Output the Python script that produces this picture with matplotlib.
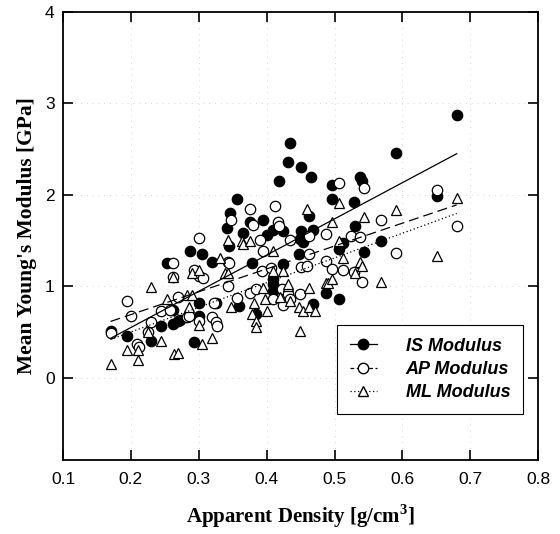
import numpy as np
import matplotlib
matplotlib.use("Agg")
import matplotlib.pyplot as plt

# apparent density [g/cm3] and modulus [GPa]
is_x = [0.17, 0.194, 0.229, 0.244, 0.262, 0.262, 0.269, 0.273, 0.253, 0.293,
        0.30, 0.30, 0.287, 0.305, 0.319, 0.325, 0.341, 0.346, 0.344, 0.356,
        0.359, 0.365, 0.376, 0.378, 0.385, 0.394, 0.40, 0.409, 0.41, 0.41,
        0.41, 0.418, 0.424, 0.424, 0.432, 0.435, 0.447, 0.449, 0.451, 0.451,
        0.453, 0.462, 0.465, 0.468, 0.468, 0.487, 0.497, 0.497, 0.507, 0.507,
        0.512, 0.528, 0.53, 0.538, 0.54, 0.544, 0.568, 0.591, 0.651, 0.681]
is_y = [0.51, 0.46, 0.40, 0.57, 0.74, 0.59, 0.62, 0.63, 1.25, 0.39,
        0.82, 0.67, 1.39, 1.35, 1.27, 0.82, 1.64, 1.80, 1.44, 1.95,
        0.78, 1.58, 1.70, 1.25, 0.70, 1.73, 1.56, 1.61, 0.95, 1.02,
        1.08, 2.15, 1.60, 1.24, 2.36, 2.57, 1.35, 1.52, 2.30, 1.60,
        1.48, 1.77, 2.19, 1.62, 0.81, 0.93, 2.11, 1.95, 1.41, 0.86,
        1.47, 1.92, 1.66, 2.19, 2.15, 1.38, 1.49, 2.46, 1.99, 2.87]

ap_x = [0.17, 0.195, 0.20, 0.209, 0.212, 0.225, 0.229, 0.245, 0.258, 0.262,
        0.262, 0.27, 0.282, 0.285, 0.293, 0.30, 0.30, 0.30, 0.306, 0.319,
        0.325, 0.327, 0.322, 0.343, 0.343, 0.344, 0.348, 0.356, 0.376, 0.38,
        0.375, 0.385, 0.39, 0.393, 0.394, 0.409, 0.407, 0.412, 0.416, 0.418,
        0.422, 0.424, 0.431, 0.434, 0.434, 0.449, 0.451, 0.46, 0.462, 0.463,
        0.487, 0.487, 0.497, 0.506, 0.512, 0.524, 0.528, 0.538, 0.54, 0.544,
        0.568, 0.59, 0.651, 0.68]
ap_y = [0.49, 0.84, 0.67, 0.37, 0.34, 0.50, 0.61, 0.73, 0.74, 1.25,
        1.10, 0.88, 0.66, 0.68, 1.18, 1.53, 0.62, 1.11, 1.09, 0.66,
        0.61, 0.57, 0.82, 1.26, 1.00, 1.25, 1.73, 0.87, 1.84, 1.67,
        0.93, 0.97, 1.51, 1.17, 1.39, 0.86, 1.20, 1.88, 1.70, 1.66,
        0.97, 0.80, 0.92, 0.86, 1.51, 0.91, 1.21, 1.22, 1.35, 1.55,
        1.57, 1.28, 1.19, 2.13, 1.18, 1.55, 1.16, 1.54, 1.05, 2.08,
        1.73, 1.36, 2.05, 1.66]

ml_x = [0.17, 0.194, 0.21, 0.21, 0.225, 0.229, 0.245, 0.253, 0.262, 0.263,
        0.27, 0.282, 0.285, 0.29, 0.29, 0.30, 0.30, 0.305, 0.319, 0.331,
        0.338, 0.343, 0.343, 0.348, 0.363, 0.365, 0.375, 0.378, 0.382, 0.385,
        0.385, 0.394, 0.397, 0.40, 0.409, 0.409, 0.42, 0.424, 0.431, 0.431,
        0.434, 0.447, 0.449, 0.453, 0.46, 0.462, 0.463, 0.471, 0.487, 0.49,
        0.497, 0.497, 0.506, 0.506, 0.512, 0.53, 0.537, 0.54, 0.544, 0.568,
        0.591, 0.651, 0.68]
ml_y = [0.15, 0.30, 0.30, 0.19, 0.50, 0.99, 0.40, 0.86, 1.10, 0.26,
        0.27, 0.90, 0.77, 0.90, 1.15, 1.18, 0.58, 0.37, 0.43, 1.31,
        1.14, 1.51, 1.15, 0.77, 1.50, 1.46, 1.50, 0.70, 0.82, 0.62,
        0.55, 0.98, 0.86, 0.73, 1.39, 1.17, 0.88, 1.17, 1.00, 1.03,
        0.84, 0.77, 0.51, 0.73, 1.85, 0.98, 0.77, 0.73, 1.04, 1.04,
        1.70, 1.08, 1.50, 1.91, 1.31, 1.14, 1.26, 1.22, 1.76, 1.05,
        1.83, 1.33, 1.96]

# linear fits (slope, intercept) as drawn in the figure
fit_range = [0.17, 0.68]
is_fit = (3.96, -0.243)
ap_fit = (2.50, 0.190)
ml_fit = (2.70, -0.040)

plt.rcParams['mathtext.fontset'] = 'custom'
plt.rcParams['mathtext.bf'] = 'Liberation Serif:bold'
plt.rcParams['mathtext.rm'] = 'Liberation Serif:bold'

fig = plt.figure(figsize=(5.6, 5.34), dpi=100)
ax = fig.add_axes([0.1125, 0.1386, 0.8485, 0.839])

xf = np.array(fit_range)
mk = dict(markersize=7.5, markeredgewidth=0.9, markeredgecolor='black', linestyle='none')

ax.plot(is_x, is_y, marker='o', markerfacecolor='black', **mk)
ax.plot(ap_x, ap_y, marker='o', markerfacecolor='white', **mk)
ax.plot(ml_x, ml_y, marker='^', markerfacecolor='white', **mk)

ax.plot(xf, is_fit[0] * xf + is_fit[1], color='black', lw=0.9, ls='-')
ax.plot(xf, ap_fit[0] * xf + ap_fit[1], color='black', lw=0.9, ls=(0, (8, 4)))
ax.plot(xf, ml_fit[0] * xf + ml_fit[1], color='black', lw=0.9, ls=(0, (1, 2)))

# legend handles: marker with a short line through it
h1, = ax.plot([], [], color='black', lw=0.9, ls='-', marker='o', markerfacecolor='black',
              markersize=7.5, markeredgecolor='black')
h2, = ax.plot([], [], color='black', lw=0.9, ls=(0, (3, 2)), marker='o', markerfacecolor='white',
              markersize=7.5, markeredgecolor='black')
h3, = ax.plot([], [], color='black', lw=0.9, ls=(0, (1, 2)), marker='^', markerfacecolor='white',
              markersize=7.5, markeredgecolor='black')
leg = ax.legend([h1, h2, h3], ['IS Modulus', 'AP Modulus', 'ML Modulus'],
                loc='lower right', bbox_to_anchor=(0.968, 0.103), fancybox=False,
                edgecolor='black', framealpha=1, handlelength=1.5, handletextpad=1.6,
                borderpad=0.7, labelspacing=0.35, borderaxespad=0,
                prop=dict(family='Liberation Sans', weight='bold', style='italic', size=13))
leg.get_frame().set_linewidth(0.8)

ax.set_xlim(0.1, 0.8)
ax.set_ylim(-0.9, 4)
ax.set_xticks(np.arange(0.1, 0.81, 0.1))
ax.set_yticks([0, 1, 2, 3, 4])
ax.set_xticklabels(['0.1', '0.2', '0.3', '0.4', '0.5', '0.6', '0.7', '0.8'])
ax.tick_params(direction='in', length=7, width=1.2, top=True, right=True,
               labelsize=12.5)
ax.tick_params(axis='x', pad=9)
ax.tick_params(axis='y', pad=6)
for lab in ax.get_xticklabels() + ax.get_yticklabels():
    lab.set_family('Liberation Sans')
for s in ax.spines.values():
    s.set_linewidth(1.3)
ax.grid(True, ls=(0, (1, 6)), color='#c8c8c8', lw=0.6)

ax.set_xlabel(r'Apparent Density [g/cm$^\mathbf{3}$]', family='Liberation Serif',
              weight='bold', size=15, labelpad=11)
ax.set_ylabel("Mean Young's Modulus [GPa]", family='Liberation Serif',
              weight='bold', size=15.5, labelpad=6)

fig.savefig('out.png', dpi=100)
